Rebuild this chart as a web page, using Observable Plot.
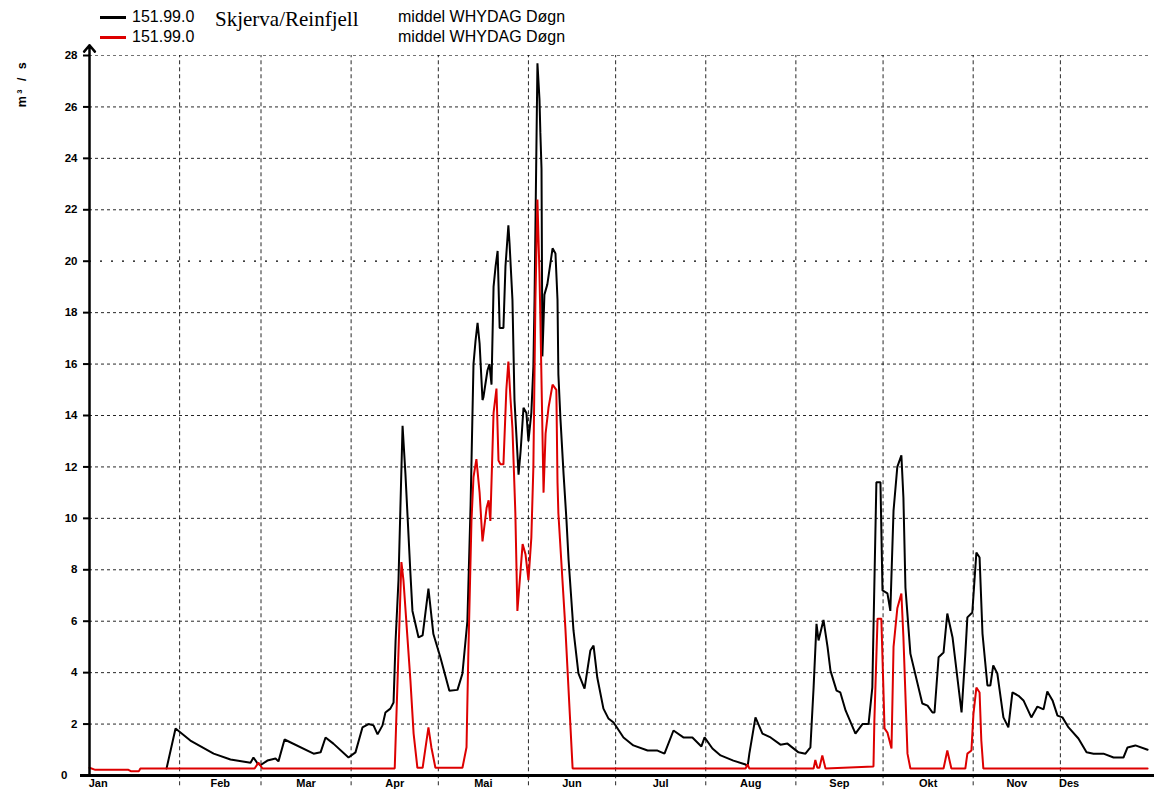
<!DOCTYPE html>
<html>
<head>
<meta charset="utf-8">
<script src="https://cdn.jsdelivr.net/npm/d3@7"></script>
<script src="https://cdn.jsdelivr.net/npm/@observablehq/plot@0.6"></script>
<style>
  html, body { margin: 0; padding: 0; background: #fff; }
  #wrap { width: 1154px; position: relative; }
  #legend { position: relative; width: 1154px; height: 40px; font-family: Arial, "Liberation Sans", sans-serif; color: #000; }
  #legend .sw { position: absolute; left: 100px; width: 26px; height: 2.5px; }
  #legend .t { position: absolute; font-size: 16px; line-height: 20px; white-space: nowrap; }
  #legend .title { position: absolute; font-family: "Liberation Serif", "Times New Roman", serif; font-size: 21px; line-height: 24px; white-space: nowrap; }
</style>
</head>
<body>
<div id="wrap">
  <div id="legend"></div>
  <div id="chart"></div>
</div>
<script>
// ---- data ----
const seriesNames = ["151.99.0", "151.99.0"];
const seriesDesc = ["middel WHYDAG Døgn", "middel WHYDAG Døgn"];
const stationName = "Skjerva/Reinfjell";
const seriesColors = ["#000000", "#dd0000"];

const monthNames = ["Jan","Feb","Mar","Apr","Mai","Jun","Jul","Aug","Sep","Okt","Nov","Des"];
const monthStarts = [0, 31, 59, 90, 120, 151, 181, 212, 243, 273, 304, 334];
const monthLabelDays = [3, 45, 74.5, 105, 135.5, 166, 196.5, 227.5, 258, 288.5, 319, 337];
const yTicks = [0,2,4,6,8,10,12,14,16,18,20,22,24,26,28];
const yLabel = "m³ / s";

const blackDay = [26.5,29.6,34.7,42.7,48.5,55.4,56.4,57.8,58.8,61.2,64.0,65.0,67.1,77.1,79.5,81.2,83.9,89.1,91.5,93.9,96.0,97.7,99.1,100.8,101.8,103.5,104.6,105.3,106.3,107.7,108.7,110.4,111.1,113.2,114.6,116.6,118.3,120.7,123.8,126.6,128.3,130.0,131.1,132.1,132.8,133.5,134.2,135.2,135.5,136.9,137.6,138.3,139.0,139.7,140.4,141.1,142.4,143.1,144.1,144.5,145.5,146.2,147.6,148.3,149.3,150.3,151.0,152.0,152.7,153.1,154.1,154.8,155.1,155.5,155.8,156.5,157.5,159.3,160.3,161.0,161.3,162.0,163.1,164.1,164.8,166.5,168.2,170.3,172.3,173.4,174.7,176.8,178.5,180.3,183.7,187.1,192.0,195.4,197.8,200.9,204.3,207.4,210.5,211.6,214.3,217.1,221.5,225.7,226.4,227.0,229.1,231.5,234.3,237.7,240.1,243.9,246.3,248.0,249.1,250.1,250.8,252.5,253.9,254.9,257.0,258.3,260.1,263.5,265.9,268.0,269.3,270.7,272.1,272.8,274.5,275.5,276.6,277.9,279.3,280.0,280.7,282.4,286.5,288.3,290.0,290.7,292.1,293.8,295.1,296.9,300.0,301.3,302.0,303.7,305.1,306.2,307.2,308.9,309.9,310.9,312.3,314.4,316.1,317.5,319.6,321.3,324.0,326.1,328.2,329.5,331.3,333.0,334.7,336.8,340.2,343.0,345.4,348.8,352.3,355.7,357.1,359.8,364.0];
const blackFlow = [0.27,1.83,1.36,0.85,0.62,0.5,0.7,0.47,0.4,0.58,0.66,0.55,1.4,0.85,0.9,1.48,1.24,0.7,0.9,1.87,2.0,1.95,1.6,1.95,2.45,2.6,2.84,5.25,7.6,13.6,11.7,7.86,6.4,5.37,5.45,7.27,5.5,4.6,3.3,3.33,3.97,6.0,10.5,16.0,16.9,17.6,16.8,14.6,14.7,15.75,16.0,15.2,19.0,19.8,20.4,17.4,17.4,19.8,21.4,20.7,18.5,14.6,11.7,12.6,14.3,14.1,13.0,14.1,15.9,18.5,27.7,26.3,25.0,23.6,16.3,18.7,19.1,20.5,20.3,18.5,15.6,13.9,11.7,9.9,8.4,5.64,3.97,3.38,4.86,5.05,3.8,2.6,2.22,2.06,1.48,1.17,0.97,0.97,0.85,1.75,1.48,1.48,1.13,1.48,1.05,0.78,0.58,0.43,0.35,0.85,2.26,1.63,1.48,1.2,1.24,0.9,0.85,1.09,3.42,5.9,5.25,6.05,5.0,4.08,3.3,3.23,2.53,1.63,2.0,2.0,3.42,11.4,11.4,7.2,7.08,6.4,10.3,12.0,12.45,10.8,7.3,4.74,2.8,2.72,2.45,2.45,4.6,4.78,6.3,5.37,2.45,4.74,6.15,6.34,8.67,8.48,5.52,3.5,3.5,4.28,3.97,2.26,1.87,3.23,3.1,2.92,2.26,2.68,2.57,3.27,2.92,2.33,2.26,1.87,1.44,0.9,0.85,0.85,0.7,0.7,1.09,1.17,1.0];

const redDay = [0,2,13.4,14.2,17,17.5,56.8,58.1,59.5,105.0,107.3,108.0,110.4,111.5,112.8,114.6,116.6,117.6,119.0,128.3,129.7,130.3,131.4,132.1,133.1,134.2,135.2,136.6,137.3,137.9,139.0,140.0,140.7,141.4,142.4,143.4,144.1,144.8,145.5,146.5,147.2,149.0,150.0,151.0,152.0,152.7,153.4,154.1,154.8,155.1,156.2,156.9,157.9,159.3,160.6,161.0,161.3,163.7,166.2,225.7,226.4,227.0,249.1,249.7,250.4,251.1,252.1,253.2,269.7,270.0,271.1,272.4,273.1,273.5,274.5,275.9,276.6,277.9,279.3,280.0,281.4,282.4,293.8,295.1,296.5,301.3,302.0,303.4,304.1,305.1,306.2,306.8,307.5,364.0];
const redFlow = [0.3,0.22,0.22,0.17,0.17,0.27,0.27,0.5,0.27,0.27,8.3,7.6,3.7,1.63,0.3,0.3,1.87,1.1,0.3,0.3,1.1,4.6,9.9,11.6,12.3,11.0,9.1,10.4,10.7,9.9,14.1,15.05,12.25,12.1,12.1,15.0,16.1,14.7,13.5,10.2,6.4,9.0,8.6,7.6,9.25,12.0,18.5,22.4,19.5,17.8,11.0,13.3,14.3,15.2,15.0,11.4,10.2,5.75,0.27,0.27,0.43,0.27,0.27,0.6,0.3,0.3,0.78,0.27,0.35,2.1,6.1,6.1,3.42,1.83,1.67,1.05,5.0,6.5,7.08,5.37,0.85,0.27,0.27,0.97,0.27,0.27,0.85,0.97,2.41,3.42,3.23,1.36,0.27,0.27];

// ---- build tables ----
const black = blackDay.map((d, i) => ({day: d, flow: blackFlow[i]}));
const red = redDay.map((d, i) => ({day: d, flow: redFlow[i]}));

// ---- legend (HTML above the svg) ----
const legend = document.getElementById("legend");
const rowsTop = [7, 27];
seriesNames.forEach((name, i) => {
  const sw = document.createElement("div");
  sw.className = "sw";
  sw.style.top = (rowsTop[i] + 9) + "px";
  sw.style.background = seriesColors[i];
  legend.appendChild(sw);
  const t = document.createElement("div");
  t.className = "t";
  t.style.left = "132px";
  t.style.top = rowsTop[i] + "px";
  t.textContent = name;
  legend.appendChild(t);
  const d = document.createElement("div");
  d.className = "t";
  d.style.left = "398px";
  d.style.top = rowsTop[i] + "px";
  d.textContent = seriesDesc[i];
  legend.appendChild(d);
});
const title = document.createElement("div");
title.className = "title";
title.style.left = "215px";
title.style.top = "7px";
title.textContent = stationName;
legend.appendChild(title);

// ---- chart ----
const font = "Arial, 'Liberation Sans', sans-serif";
const chart = Plot.plot({
  width: 1154,
  height: 754,
  marginTop: 15,
  marginBottom: 19,
  marginLeft: 89,
  marginRight: 4,
  x: {domain: [0, 365], axis: null},
  y: {domain: [0, 28], axis: null},
  style: {background: "white", color: "black", fontFamily: font, overflow: "visible"},
  marks: [
    // horizontal grid
    Plot.ruleY(yTicks.filter(v => v > 0 && v < 28 && v !== 20), {stroke: "#000", strokeWidth: 1, strokeDasharray: "3,3", strokeOpacity: 0.85}),
    Plot.ruleY([28], {stroke: "#000", strokeWidth: 1, strokeDasharray: "3,3", strokeOpacity: 0.55}),
    Plot.ruleY([20], {stroke: "#000", strokeWidth: 1.2, strokeDasharray: "2,9"}),
    // vertical month grid (extends a little below the axis as ticks)
    Plot.ruleX(monthStarts.slice(1), {y1: -0.4, y2: 28, stroke: "#000", strokeWidth: 1, strokeDasharray: "4,3", strokeOpacity: 0.85}),
    // series
    Plot.line(black, {x: "day", y: "flow", stroke: seriesColors[0], strokeWidth: 2, strokeLinejoin: "miter"}),
    Plot.line(red, {x: "day", y: "flow", stroke: seriesColors[1], strokeWidth: 2, strokeLinejoin: "miter"}),
    // axes
    Plot.ruleY([0], {stroke: "#000", strokeWidth: 3, insetLeft: -9, insetRight: -4}),
    Plot.arrow([{x: 0, y1: 0, y2: 28.4}], {x: "x", y1: "y1", y2: "y2", stroke: "#000", strokeWidth: 2.5, headLength: 5, headAngle: 80}),
    Plot.axisY({ticks: yTicks.filter(v => v > 0), tickSize: 6, tickPadding: 6, strokeWidth: 2, fontWeight: "bold", fontSize: 11.5, label: null, fill: "#000"}),
    Plot.axisY({ticks: [0], tickSize: 0, tickPadding: 22, fontWeight: "bold", fontSize: 11.5, label: null, fill: "#000"}),
    Plot.text(monthNames, {x: (d, i) => monthLabelDays[i], frameAnchor: "bottom", dy: 11, fontWeight: "bold", fontSize: 11, fill: "#000", textAnchor: "middle"}),
    Plot.text([yLabel], {frameAnchor: "top-left", dx: -72, dy: 28, rotate: -90, fontWeight: "bold", fontSize: 12.5, fill: "#000", textAnchor: "middle"})
  ]
});
document.getElementById("chart").appendChild(chart);
// widen the unit label like the reference
chart.querySelectorAll("text").forEach(t => {
  if (t.textContent === yLabel) t.setAttribute("letter-spacing", "2.5");
});
</script>
</body>
</html>
